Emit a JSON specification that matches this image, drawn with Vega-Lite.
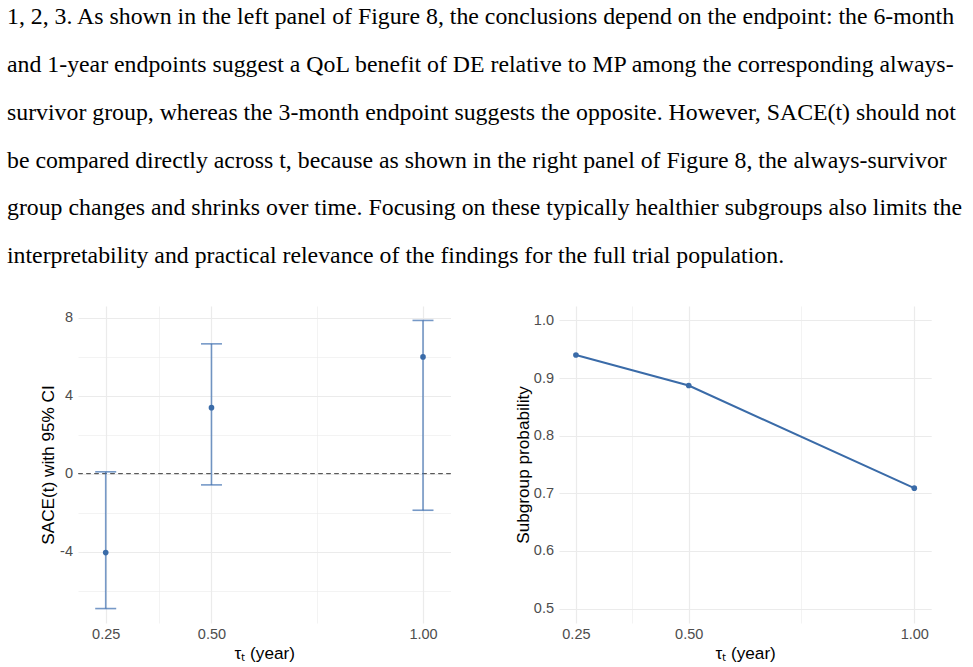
{
  "$schema": "https://vega.github.io/schema/vega-lite/v6.json",
  "background": "white",
  "padding": {"left": 7, "top": 5, "right": 5, "bottom": 5},
  "title": {
    "text": [
      "1, 2, 3. As shown in the left panel of Figure 8, the conclusions depend on the endpoint: the 6-month",
      "and 1-year endpoints suggest a QoL benefit of DE relative to MP among the corresponding always-",
      "survivor group, whereas the 3-month endpoint suggests the opposite. However, SACE(t) should not",
      "be compared directly across t, because as shown in the right panel of Figure 8, the always-survivor",
      "group changes and shrinks over time. Focusing on these typically healthier subgroups also limits the",
      "interpretability and practical relevance of the findings for the full trial population."
    ],
    "anchor": "start",
    "frame": "bounds",
    "font": "Liberation Serif",
    "fontSize": 23.8,
    "fontWeight": "normal",
    "color": "#000000",
    "lineHeight": 47.8,
    "offset": 38
  },
  "datasets": {
    "sace": [
      {"tau": 0.25, "est": -4.05, "lo": -6.92, "hi": 0.09},
      {"tau": 0.5, "est": 3.38, "lo": -0.58, "hi": 6.65},
      {"tau": 1.0, "est": 5.98, "lo": -1.88, "hi": 7.85}
    ],
    "prob": [
      {"tau": 0.25, "p": 0.94},
      {"tau": 0.5, "p": 0.887},
      {"tau": 1.0, "p": 0.709}
    ],
    "empty": []
  },
  "spacing": 0,
  "hconcat": [
    {
      "width": 32,
      "height": 317,
      "data": {"name": "empty"},
      "mark": {"type": "rule"},
      "encoding": {}
    },
    {
      "spacing": 63,
      "hconcat": [
        {
          "width": 372.5,
          "height": 317,
          "data": {"name": "sace"},
          "layer": [
            {
              "mark": {"type": "rule", "color": "#5A5A5A", "strokeDash": [4, 4], "strokeWidth": 1},
              "encoding": {"y": {"datum": 0, "type": "quantitative"}}
            },
            {
              "mark": {"type": "rule", "color": "#3C6EAF", "opacity": 0.7, "strokeWidth": 1.6},
              "encoding": {
                "x": {
                  "field": "tau",
                  "type": "quantitative",
                  "scale": {"domain": [0.1845, 1.065], "nice": false, "zero": false},
                  "axis": {
                    "values": [0.25, 0.375, 0.5, 0.75, 1.0],
                    "labelExpr": "(datum.value === 0.25 || datum.value === 0.5 || datum.value === 1) ? format(datum.value, '.2f') : ''",
                    "gridWidth": {"condition": {"test": "datum.value === 0.25 || datum.value === 0.5 || datum.value === 1", "value": 1.2}, "value": 0.6},
                    "title": "τₜ (year)"
                  }
                },
                "y": {
                  "field": "lo",
                  "type": "quantitative",
                  "scale": {"domain": [-7.66, 8.59], "nice": false, "zero": false},
                  "axis": {
                    "values": [-6, -4, -2, 0, 2, 4, 6, 8],
                    "labelExpr": "datum.value % 4 === 0 ? '' + datum.value : ''",
                    "titlePadding": 2,
                    "gridWidth": {"condition": {"test": "datum.value % 4 === 0", "value": 1.2}, "value": 0.6},
                    "title": "SACE(t) with 95% CI"
                  }
                },
                "y2": {"field": "hi"}
              }
            },
            {
              "mark": {"type": "tick", "orient": "horizontal", "color": "#3C6EAF", "opacity": 0.7, "thickness": 1.6, "size": 21},
              "encoding": {
                "x": {"field": "tau", "type": "quantitative"},
                "y": {"field": "lo", "type": "quantitative"}
              }
            },
            {
              "mark": {"type": "tick", "orient": "horizontal", "color": "#3C6EAF", "opacity": 0.7, "thickness": 1.6, "size": 21},
              "encoding": {
                "x": {"field": "tau", "type": "quantitative"},
                "y": {"field": "hi", "type": "quantitative"}
              }
            },
            {
              "mark": {"type": "circle", "color": "#3A6BA8", "opacity": 1, "size": 32},
              "encoding": {
                "x": {"field": "tau", "type": "quantitative"},
                "y": {"field": "est", "type": "quantitative"}
              }
            }
          ]
        },
        {
          "width": 372.2,
          "height": 317,
          "data": {"name": "prob"},
          "layer": [
            {
              "mark": {"type": "line", "color": "#3A6BA8", "strokeWidth": 2},
              "encoding": {
                "x": {
                  "field": "tau",
                  "type": "quantitative",
                  "scale": {"domain": [0.2125, 1.0375], "nice": false, "zero": false},
                  "axis": {
                    "values": [0.25, 0.375, 0.5, 0.75, 1.0],
                    "labelExpr": "(datum.value === 0.25 || datum.value === 0.5 || datum.value === 1) ? format(datum.value, '.2f') : ''",
                    "gridWidth": {"condition": {"test": "datum.value === 0.25 || datum.value === 0.5 || datum.value === 1", "value": 1.2}, "value": 0.6},
                    "title": "τₜ (year)"
                  }
                },
                "y": {
                  "field": "p",
                  "type": "quantitative",
                  "scale": {"domain": [0.475, 1.025], "nice": false, "zero": false},
                  "axis": {
                    "values": [0.5, 0.55, 0.6, 0.65, 0.7, 0.75, 0.8, 0.85, 0.9, 0.95, 1.0],
                    "labelExpr": "abs(datum.value * 10 - round(datum.value * 10)) < 0.01 ? format(datum.value, '.1f') : ''",
                    "titlePadding": 1,
                    "gridWidth": {"condition": {"test": "abs(datum.value * 10 - round(datum.value * 10)) < 0.01", "value": 1.2}, "value": 0.6},
                    "title": "Subgroup probability"
                  }
                }
              }
            },
            {
              "mark": {"type": "circle", "color": "#3A6BA8", "opacity": 1, "size": 32},
              "encoding": {
                "x": {"field": "tau", "type": "quantitative"},
                "y": {"field": "p", "type": "quantitative"}
              }
            }
          ]
        }
      ]
    }
  ],
  "config": {
    "view": {"stroke": null},
    "style": {"guide-label": {"fontSize": 14.5, "font": "Liberation Sans", "fill": "#4D4D4D"}},
    "axis": {
      "domain": false,
      "ticks": false,
      "grid": true,
      "gridColor": "#EBEBEB",
      "labelFont": "Liberation Sans",
      "labelFontSize": 14.5,
      "labelColor": "#4D4D4D",
      "labelPadding": 4,
      "titleFont": "Liberation Sans",
      "titleFontSize": 17.2,
      "titleFontWeight": "normal",
      "titleColor": "#000000",
      "titlePadding": 4
    },
    "axisY": {"labelPadding": 5.5}
  }
}
